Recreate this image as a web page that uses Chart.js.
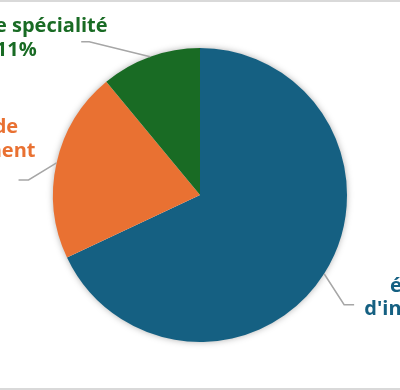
<!DOCTYPE html>
<html>
<head>
<meta charset="utf-8">
<script src="https://cdn.jsdelivr.net/npm/chart.js@4/dist/chart.umd.min.js"></script>
<style>
  html, body { margin: 0; padding: 0; background: #fff; }
  #wrap { position: relative; width: 400px; height: 390px; overflow: hidden; }
  #wrap .rule { position: absolute; left: 0; width: 400px; height: 2px; background: #d9d9d9; }
  #wrap .top { top: 0; }
  #wrap .bottom { bottom: 0; }
</style>
</head>
<body>
<div id="wrap">
  <canvas id="pieChart"></canvas>
  <div class="rule top"></div>
  <div class="rule bottom"></div>
</div>
<script>
const categories = [
  ["écoles", "d'ingénieur"],
  ["Programme de", "perfectionnement"],
  ["Cycle de spécialité"],
];
const shares = [68, 21, 11];
const sliceColors = ["#156082", "#e97132", "#196b24"];

// leader line: elbow and end relative to the slice's edge midpoint, then label centre relative to end
const leaders = [
  { elbow: [20, 31], end: [30, 31], label: [67, 5] },
  { elbow: [-28, 17], end: [-38, 17], label: [-74, -29] },
  { elbow: [-61, -15], end: [-69, -15], label: [-65, -3.5] },
];

const FONT = "bold 20px 'Open Sans', sans-serif";
const LINE_H = 23.5;

const pieShadow = {
  id: "pieShadow",
  beforeDatasetsDraw(chart) {
    const arc = chart.getDatasetMeta(0).data[0];
    if (!arc) return;
    const ctx = chart.ctx;
    ctx.save();
    ctx.shadowColor = "rgba(0,0,0,0.35)";
    ctx.shadowBlur = 7;
    ctx.fillStyle = "#ffffff";
    ctx.beginPath();
    ctx.arc(arc.x, arc.y, arc.outerRadius - 0.5, 0, Math.PI * 2);
    ctx.fill();
    ctx.restore();
  },
};

const pieLabels = {
  id: "pieLabels",
  afterDatasetsDraw(chart) {
    const ctx = chart.ctx;
    const meta = chart.getDatasetMeta(0);
    meta.data.forEach((arc, i) => {
      const mid = (arc.startAngle + arc.endAngle) / 2;
      const px = arc.x + Math.cos(mid) * arc.outerRadius;
      const py = arc.y + Math.sin(mid) * arc.outerRadius;
      const L = leaders[i];
      const ex = px + L.end[0], ey = py + L.end[1];

      ctx.save();
      ctx.strokeStyle = "#a6a6a6";
      ctx.lineWidth = 1.5;
      ctx.beginPath();
      ctx.moveTo(px, py);
      ctx.lineTo(px + L.elbow[0], py + L.elbow[1]);
      ctx.lineTo(ex, ey);
      ctx.stroke();

      const lines = [...categories[i], shares[i] + "%"];
      const cx = ex + L.label[0];
      const cy = ey + L.label[1];
      const top = cy - (lines.length - 1) * LINE_H / 2;
      ctx.font = FONT;
      ctx.fillStyle = sliceColors[i];
      ctx.textAlign = "center";
      ctx.textBaseline = "middle";
      lines.forEach((t, k) => ctx.fillText(t, cx, top + k * LINE_H));
      ctx.restore();
    });
  },
};

new Chart(document.getElementById("pieChart"), {
  type: "pie",
  data: {
    labels: categories.map((c) => c.join(" ")),
    datasets: [
      {
        data: shares,
        backgroundColor: sliceColors,
        borderWidth: 0,
      },
    ],
  },
  options: {
    responsive: true,
    maintainAspectRatio: false,
    animation: false,
    radius: 147,
    layout: { padding: 0 },
    plugins: {
      legend: { display: false },
      tooltip: { enabled: false },
    },
  },
  plugins: [pieShadow, pieLabels],
});
</script>
</body>
</html>
